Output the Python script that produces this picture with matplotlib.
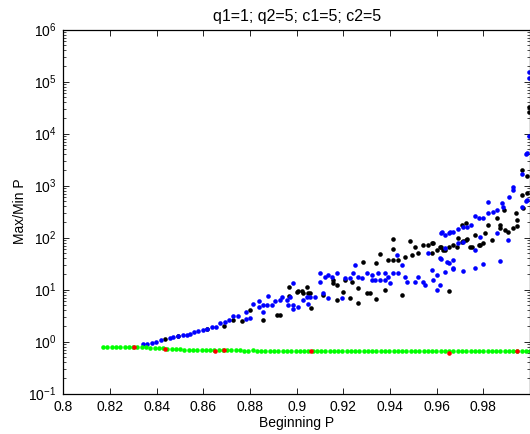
#!/usr/bin/env python3
"""
Max/Min P vs beginning P, q1=1 q2=5 c1=5 c2=5 (matlab style dots, log y).
"""
import numpy as np
import matplotlib
matplotlib.use("Agg")
import matplotlib.pyplot as plt
from matplotlib.ticker import LogLocator, FixedLocator

plt.rcParams["font.family"] = ["Liberation Sans", "DejaVu Sans"]
plt.rcParams["mathtext.default"] = "regular"

# ── Data (y values as log10 exponents) ────────────────────────────────────────
GREEN_X = [0.8171, 0.8189, 0.8208, 0.8226, 0.8244, 0.8263, 0.8281, 0.8299, 0.8317, 0.8336,
           0.8354, 0.8372, 0.8391, 0.8409, 0.8427, 0.8446, 0.8464, 0.8482, 0.8500, 0.8519,
           0.8537, 0.8555, 0.8574, 0.8592, 0.8610, 0.8629, 0.8647, 0.8665, 0.8683, 0.8702,
           0.8720, 0.8738, 0.8757, 0.8775, 0.8793, 0.8812, 0.8830, 0.8848, 0.8866, 0.8885,
           0.8903, 0.8921, 0.8940, 0.8958, 0.8976, 0.8995, 0.9013, 0.9031, 0.9049, 0.9068,
           0.9086, 0.9104, 0.9123, 0.9141, 0.9159, 0.9178, 0.9196, 0.9214, 0.9232, 0.9251,
           0.9269, 0.9287, 0.9306, 0.9324, 0.9342, 0.9361, 0.9379, 0.9397, 0.9415, 0.9434,
           0.9452, 0.9470, 0.9489, 0.9507, 0.9525, 0.9544, 0.9562, 0.9580, 0.9598, 0.9617,
           0.9635, 0.9653, 0.9672, 0.9690, 0.9708, 0.9727, 0.9745, 0.9763, 0.9781, 0.9800,
           0.9818, 0.9836, 0.9855, 0.9873, 0.9891, 0.9910, 0.9928, 0.9946, 0.9964, 0.9983,
           1.0000]
GREEN_E = [-0.11, -0.11, -0.10, -0.10, -0.10, -0.10, -0.10, -0.10, -0.10, -0.10,
           -0.11, -0.12, -0.12, -0.13, -0.13, -0.14, -0.15, -0.15, -0.15, -0.16,
           -0.16, -0.16, -0.16, -0.17, -0.16, -0.17, -0.17, -0.17, -0.17, -0.17,
           -0.17, -0.17, -0.17, -0.18, -0.18, -0.17, -0.18, -0.18, -0.18, -0.18,
           -0.18, -0.18, -0.18, -0.18, -0.18, -0.18, -0.18, -0.18, -0.18, -0.18,
           -0.18, -0.18, -0.18, -0.18, -0.18, -0.18, -0.18, -0.18, -0.18, -0.18,
           -0.18, -0.18, -0.18, -0.18, -0.18, -0.18, -0.18, -0.18, -0.18, -0.18,
           -0.18, -0.18, -0.18, -0.18, -0.18, -0.18, -0.18, -0.18, -0.18, -0.19,
           -0.18, -0.19, -0.18, -0.18, -0.18, -0.18, -0.18, -0.18, -0.18, -0.18,
           -0.18, -0.18, -0.18, -0.18, -0.18, -0.18, -0.18, -0.18, -0.18, -0.18,
           -0.18]

RED_X = [0.8303, 0.8435, 0.8650, 0.8690, 0.9060, 0.9653, 0.9944]
RED_E = [-0.10, -0.14, -0.19, -0.17, -0.18, -0.23, -0.18]

BLACK_X = [0.8436, 0.8492, 0.8614, 0.8690, 0.8728, 0.8764, 0.8800, 0.8856, 0.8914, 0.8929,
           0.8968, 0.8968, 0.9007, 0.9021, 0.9043, 0.9050, 0.9001, 0.9027, 0.9057, 0.9061,
           0.9113, 0.9155, 0.9155, 0.9173, 0.9173, 0.9198, 0.9207, 0.9237, 0.9228, 0.9263,
           0.9263, 0.9284, 0.9301, 0.9314, 0.9340, 0.9340, 0.9357, 0.9378, 0.9391, 0.9413,
           0.9413, 0.9413, 0.9434, 0.9451, 0.9464, 0.9486, 0.9494, 0.9507, 0.9520, 0.9541,
           0.9563, 0.9580, 0.9584, 0.9614, 0.9627, 0.9653, 0.9670, 0.9691, 0.9713, 0.9730,
           0.9751, 0.9764, 0.9786, 0.9807, 0.9837, 0.9906, 0.9966, 0.9987, 0.9966, 0.9987,
           0.9970, 0.9940, 0.9944, 0.9944, 0.9927, 0.9893, 0.9889, 0.9858, 0.9820, 0.9871,
           0.9871, 0.9798, 0.9781, 0.9743, 0.9726, 0.9708, 0.9708, 0.9726, 0.9687, 0.9653,
           0.9636, 0.9619, 0.9601, 0.9580, 0.9996, 0.9996]
BLACK_E = [0.05, 0.11, 0.25, 0.30, 0.41, 0.40, 0.61, 0.41, 0.51, 0.51,
           1.05, 0.875, 0.98, 0.98, 1.05, 0.93, 0.95, 0.93, 0.93, 0.64,
           0.89, 1.18, 1.125, 1.09, 0.80, 0.95, 1.18, 1.14, 0.84, 0.74,
           1.03, 1.53, 0.93, 0.93, 1.51, 0.82, 1.68, 0.99, 1.57, 1.97,
           1.78, 1.57, 1.57, 0.89, 1.62, 1.93, 1.66, 1.82, 1.70, 1.86,
           1.86, 1.70, 1.89, 1.82, 1.76, 0.97, 1.86, 1.99, 1.93, 1.97,
           1.82, 2.05, 1.86, 2.09, 1.95, 2.11, 3.30, 3.18, 2.82, 2.86,
           2.57, 2.47, 2.34, 2.22, 2.18, 2.14, 2.53, 2.38, 2.24, 2.24,
           2.18, 1.89, 1.86, 1.82, 1.95, 1.91, 2.24, 2.28, 1.82, 1.82,
           1.76, 1.82, 1.76, 1.89, 4.51, 4.41]

BLUE_X = [0.8342, 0.8360, 0.8378, 0.8397, 0.8417, 0.8457, 0.8471, 0.8490, 0.8511, 0.8528,
          0.8543, 0.8560, 0.8578, 0.8597, 0.8615, 0.8636, 0.8654, 0.8671, 0.8693, 0.8711,
          0.8728, 0.8750, 0.8783, 0.8783, 0.8800, 0.8814, 0.8838, 0.8840, 0.8857, 0.8857,
          0.8878, 0.8873, 0.8893, 0.8907, 0.8928, 0.8936, 0.8957, 0.8964, 0.8971, 0.8985,
          0.8985, 0.8985, 0.9007, 0.9028, 0.9043, 0.9050, 0.9057, 0.9078, 0.9100, 0.9100,
          0.9113, 0.9121, 0.9134, 0.9134, 0.9151, 0.9173, 0.9194, 0.9207, 0.9228, 0.9241,
          0.9250, 0.9263, 0.9280, 0.9301, 0.9323, 0.9323, 0.9335, 0.9348, 0.9357, 0.9378,
          0.9378, 0.9391, 0.9400, 0.9413, 0.9430, 0.9434, 0.9451, 0.9464, 0.9473, 0.9507,
          0.9520, 0.9541, 0.9550, 0.9563, 0.9580, 0.9584, 0.9601, 0.9601, 0.9614, 0.9614,
          0.9623, 0.9636, 0.9644, 0.9657, 0.9670, 0.9670, 0.9691, 0.9713, 0.9713, 0.9764,
          0.9786, 0.9798, 0.9858, 0.9871, 0.9906, 0.9987, 0.9927, 0.9927, 0.9910, 0.9880,
          0.9884, 0.9858, 0.9841, 0.9820, 0.9820, 0.9798, 0.9781, 0.9764, 0.9747, 0.9730,
          0.9713, 0.9691, 0.9670, 0.9653, 0.9619, 0.9764, 0.9987, 0.9966, 0.9636, 0.9653,
          0.9619, 0.9670, 0.9636, 0.9996, 0.9996, 0.9996, 0.9983, 0.9965, 0.9983]
BLUE_E = [-0.05, -0.05, -0.03, 0.00, 0.03, 0.07, 0.08, 0.10, 0.12, 0.13,
          0.14, 0.18, 0.20, 0.22, 0.24, 0.27, 0.28, 0.35, 0.375, 0.41,
          0.50, 0.49, 0.57, 0.43, 0.45, 0.73, 0.78, 0.66, 0.70, 0.57,
          0.875, 0.70, 0.70, 0.77, 0.80, 0.86, 0.80, 0.70, 0.86, 1.12,
          0.70, 0.62, 0.67, 0.80, 0.86, 0.73, 0.86, 0.86, 1.32, 1.14,
          0.93, 1.24, 1.28, 0.84, 1.24, 1.32, 0.84, 1.22, 1.22, 1.32,
          1.47, 1.24, 1.22, 1.32, 1.28, 1.18, 1.18, 1.32, 1.18, 1.32,
          1.18, 1.24, 1.125, 1.32, 1.66, 1.32, 1.47, 1.24, 1.14, 1.14,
          1.24, 1.14, 1.09, 1.70, 1.375, 1.18, 1.28, 0.99, 1.09, 1.61,
          2.11, 2.05, 1.53, 2.11, 1.57, 1.41, 1.89, 1.91, 1.36, 1.41,
          2.01, 1.49, 2.09, 1.55, 1.95, 3.63, 2.97, 2.91, 2.78, 2.66,
          2.59, 2.53, 2.49, 2.47, 2.68, 2.38, 2.38, 2.41, 2.24, 2.20,
          2.20, 2.16, 2.11, 2.09, 2.09, 1.76, 2.72, 2.59, 1.80, 1.51,
          1.59, 1.39, 1.34, 5.19, 5.06, 3.95, 3.60, 3.22, 2.71]

TITLE = "q1=1; q2=5; c1=5; c2=5"
XTICKS = [0.8, 0.82, 0.84, 0.86, 0.88, 0.9, 0.92, 0.94, 0.96, 0.98]

# ── Plot ───────────────────────────────────────────────────────────────────────
fig = plt.figure(figsize=(5.30, 4.34), dpi=100)
ax = fig.add_axes([0.1196, 0.0933, 0.8804, 0.8387])

dot = dict(ls="none", marker="o", ms=3.3, mew=0)
ax.plot(BLACK_X, 10.0 ** np.array(BLACK_E), color="black", **dot)
ax.plot(BLUE_X, 10.0 ** np.array(BLUE_E), color="#0000ff", **dot)
ax.plot(GREEN_X, 10.0 ** np.array(GREEN_E), color="#00ff00", **dot)
ax.plot(RED_X, 10.0 ** np.array(RED_E), color="#ff0000", **dot)

ax.set_yscale("log")
ax.set_xlim(0.8, 1.0)
ax.set_ylim(1e-1, 1e6)
ax.xaxis.set_major_locator(FixedLocator(XTICKS))
ax.set_xticklabels([f"{t:g}" for t in XTICKS])
ax.yaxis.set_major_locator(LogLocator(base=10, numticks=10))
ax.yaxis.set_minor_locator(LogLocator(base=10, subs=np.arange(2, 10), numticks=20))

ax.tick_params(which="both", direction="in", top=True, right=True, labelsize=10)
ax.tick_params(axis="x", which="major", pad=5)
ax.tick_params(axis="y", which="major", pad=5)
ax.tick_params(which="major", length=4.5, width=0.6)
ax.tick_params(which="minor", length=2.2, width=0.5)
for sp in ax.spines.values():
    sp.set_linewidth(0.9)

ax.set_title(TITLE, fontsize=11.5, pad=6)
ax.set_xlabel("Beginning P", fontsize=10, labelpad=1)
ax.set_ylabel("Max/Min P", fontsize=10, labelpad=1)

fig.savefig("out.png", dpi=100)
plt.close(fig)
